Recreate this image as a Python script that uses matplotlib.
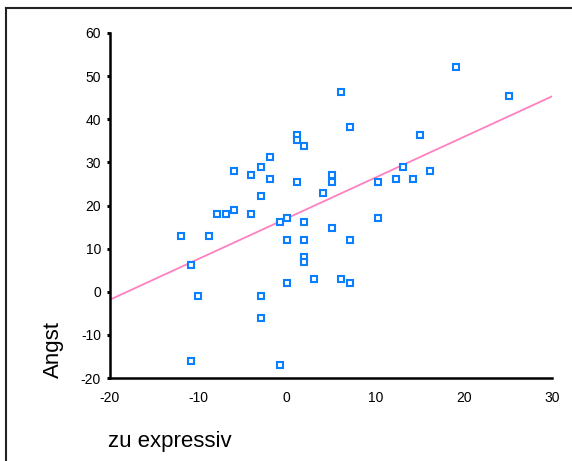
import numpy as np
import matplotlib
matplotlib.use("Agg")
import matplotlib.pyplot as plt
from matplotlib.lines import Line2D

plt.rcParams['font.family'] = ['Liberation Sans', 'DejaVu Sans']
plt.rcParams['axes.unicode_minus'] = False

# data: zu expressiv (x) vs Angst (y)
expressiv = [-12.0, -10.8, -10.0, -10.8, -8.8, -7.9, -6.9, -6.0, -6.0, -4.0,
             -4.0, -2.9, -2.9, -2.9, -2.9, -1.9, -1.9, -0.8, -0.8, 0.0,
             0.0, 0.0, 1.2, 1.2, 1.2, 2.0, 2.0, 2.0, 2.0, 2.0,
             3.1, 4.1, 5.1, 5.1, 5.1, 6.1, 6.1, 7.2, 7.2, 7.2,
             10.3, 10.3, 12.3, 13.1, 14.3, 15.1, 16.2, 19.1, 25.1]
angst = [13.0, 6.2, -1.1, -16.1, 13.0, 18.1, 18.1, 18.9, 28.0, 27.1,
         18.1, 29.0, 22.1, -1.1, -6.1, 31.3, 26.2, 16.2, -17.0, 17.1,
         12.1, 2.0, 36.4, 35.2, 25.4, 33.9, 16.2, 12.1, 8.0, 7.0,
         3.0, 23.0, 27.1, 25.4, 14.8, 46.3, 3.0, 38.1, 12.1, 2.1,
         25.4, 17.1, 26.2, 28.9, 26.2, 36.3, 28.0, 52.2, 45.4]
x_ticks = [-20, -10, 0, 10, 20, 30]
y_ticks = [-20, -10, 0, 10, 20, 30, 40, 50, 60]

W, H = 572, 461
fig = plt.figure(figsize=(W / 100, H / 100), dpi=100)
fig.patch.set_facecolor('white')

x0, x1 = 110, 552
ytop, ybot = 33, 378
ax = fig.add_axes([x0 / W, (H - ybot) / H, (x1 - x0) / W, (ybot - ytop) / H])
ax.set_xlim(-20, 30)
ax.set_ylim(-20, 60)

# regression line
xs = np.array(expressiv)
ys = np.array(angst)
b, a = np.polyfit(xs, ys, 1)
lx = np.array([-20, 30])
ax.plot(lx, a + b * lx, color='#ff80c0', lw=1.3, zorder=2)

ax.plot(expressiv, angst, linestyle='none', marker='s', markersize=4.0,
        markerfacecolor='white', markeredgecolor='#0a80ff', markeredgewidth=1.5,
        zorder=3, clip_on=False)

for s in ['top', 'right']:
    ax.spines[s].set_visible(False)
for s in ['left', 'bottom']:
    ax.spines[s].set_linewidth(1.8)
    ax.spines[s].set_color('black')

ax.set_xticks(x_ticks)
ax.set_yticks(y_ticks)
ax.tick_params(axis='x', length=0, pad=9, labelsize=10)
ax.tick_params(axis='y', length=2.5, width=2.2, pad=4, labelsize=10, direction='out')

fig.text(53 / W, 1 - 349 / H, 'Angst', rotation=90, fontsize=16,
         ha='center', va='center')
fig.text(108 / W, 1 - 441 / H, 'zu expressiv', fontsize=16,
         ha='left', va='center')

# outer frame (top and left)
fig.add_artist(Line2D([5.5 / W, 1.0], [1 - 8.5 / H, 1 - 8.5 / H],
                      transform=fig.transFigure, color='#222222', lw=1.5))
fig.add_artist(Line2D([5.5 / W, 5.5 / W], [0.0, 1 - 8.5 / H],
                      transform=fig.transFigure, color='#222222', lw=1.5))

fig.savefig('out.png', dpi=100, facecolor='white')
